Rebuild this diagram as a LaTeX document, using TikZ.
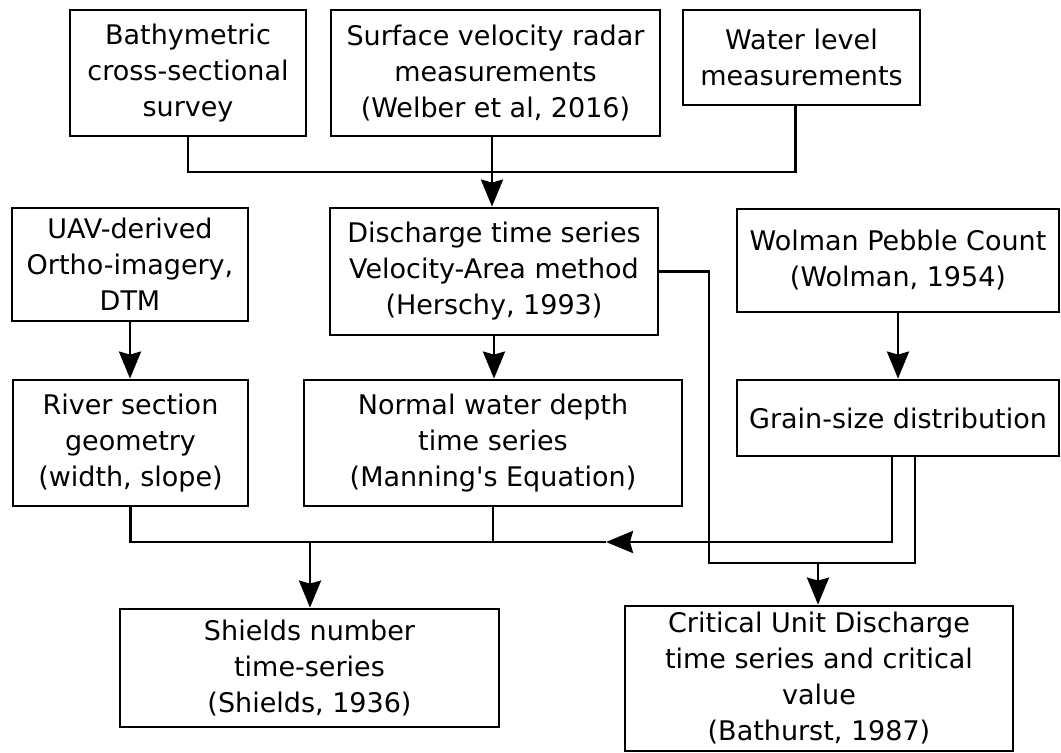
\documentclass[tikz,border=0pt]{standalone}
\usepackage{fontspec}
\setmainfont{DejaVu Sans}
\usetikzlibrary{arrows.meta}

\begin{document}
\begin{tikzpicture}[x=0.5pt,y=-0.5pt,
    box/.style={draw, line width=1.4pt, align=center, inner sep=0pt,
        font=\fontsize{13.5}{18}\selectfont},
    link/.style={line width=1.4pt},
    arr/.style={line width=1.4pt, -{Stealth[length=13.5pt,width=11pt,inset=1.5pt]}}]
            \useasboundingbox (0,0) rectangle (1061,753);

            \node[box, minimum width=118pt, minimum height=63pt] (bathy) at (188,73) {Bathymetric\\cross-sectional\\survey};
            \node[box, minimum width=164.5pt, minimum height=63pt] (radar) at (495.5,73) {Surface velocity radar\\measurements\\(Welber et al, 2016)};
            \node[box, minimum width=118.5pt, minimum height=47.5pt] (level) at (801.5,57.5) {Water level\\measurements};

            \node[box, minimum width=118pt, minimum height=56.5pt] (uav) at (130,264.5) {UAV-derived\\Ortho-imagery,\\DTM};
            \node[box, minimum width=164pt, minimum height=63.5pt] (discharge) at (494,271.5) {Discharge time series\\Velocity-Area method\\(Herschy, 1993)};
            \node[box, minimum width=161pt, minimum height=51.5pt] (wolman) at (898,260.5) {Wolman Pebble Count\\(Wolman, 1954)};

            \node[box, minimum width=117.5pt, minimum height=63pt] (river) at (130.5,443) {River section\\geometry\\(width, slope)};
            \node[box, minimum width=189pt, minimum height=63pt] (normal) at (493,443) {Normal water depth\\time series\\(Manning\textquotesingle s Equation)};
            \node[box, minimum width=161pt, minimum height=38pt] (grain) at (898,418) {Grain-size distribution};

            \node[box, minimum width=189.5pt, minimum height=59pt] (shields) at (309.5,668) {Shields number\\time-series\\(Shields, 1936)};
            \node[box, minimum width=194pt, minimum height=72.5pt] (critical) at (819,678.5) {Critical Unit Discharge\\time series and critical\\value\\(Bathurst, 1987)};

            \coordinate (topjoin) at (492,172);
            \coordinate (midtip) at (606,542);
            \coordinate (shjoin) at (310,542);
            \coordinate (crjoin) at (818,563);
            \coordinate (dcorner) at (709,563);

            \draw[link] (bathy.south) |- (topjoin) -| ([xshift=-3pt]level.south);
            \draw[arr] (radar.south -| topjoin) -- (discharge.north -| topjoin);

            \draw[arr] (uav.south) -- (uav.south |- river.north);
            \draw[arr] (discharge.south) -- (discharge.south |- normal.north);
            \draw[arr] (wolman.south) -- (grain.north);

            \draw[arr] ([xshift=-3pt]grain.south) |- (midtip);
            \draw[link] (midtip) -- (river.south |- midtip) -- (river.south);
            \draw[link] (normal.south) -- (normal.south |- midtip);
            \draw[arr] (shjoin) -- (shields.north -| shjoin);

            \draw[link] (discharge.east) -| (dcorner) -- ([xshift=8.5pt]grain.south |- dcorner) -- ([xshift=8.5pt]grain.south);
            \draw[arr] (crjoin) -- (critical.north -| crjoin);
        \end{tikzpicture}
\end{document}
